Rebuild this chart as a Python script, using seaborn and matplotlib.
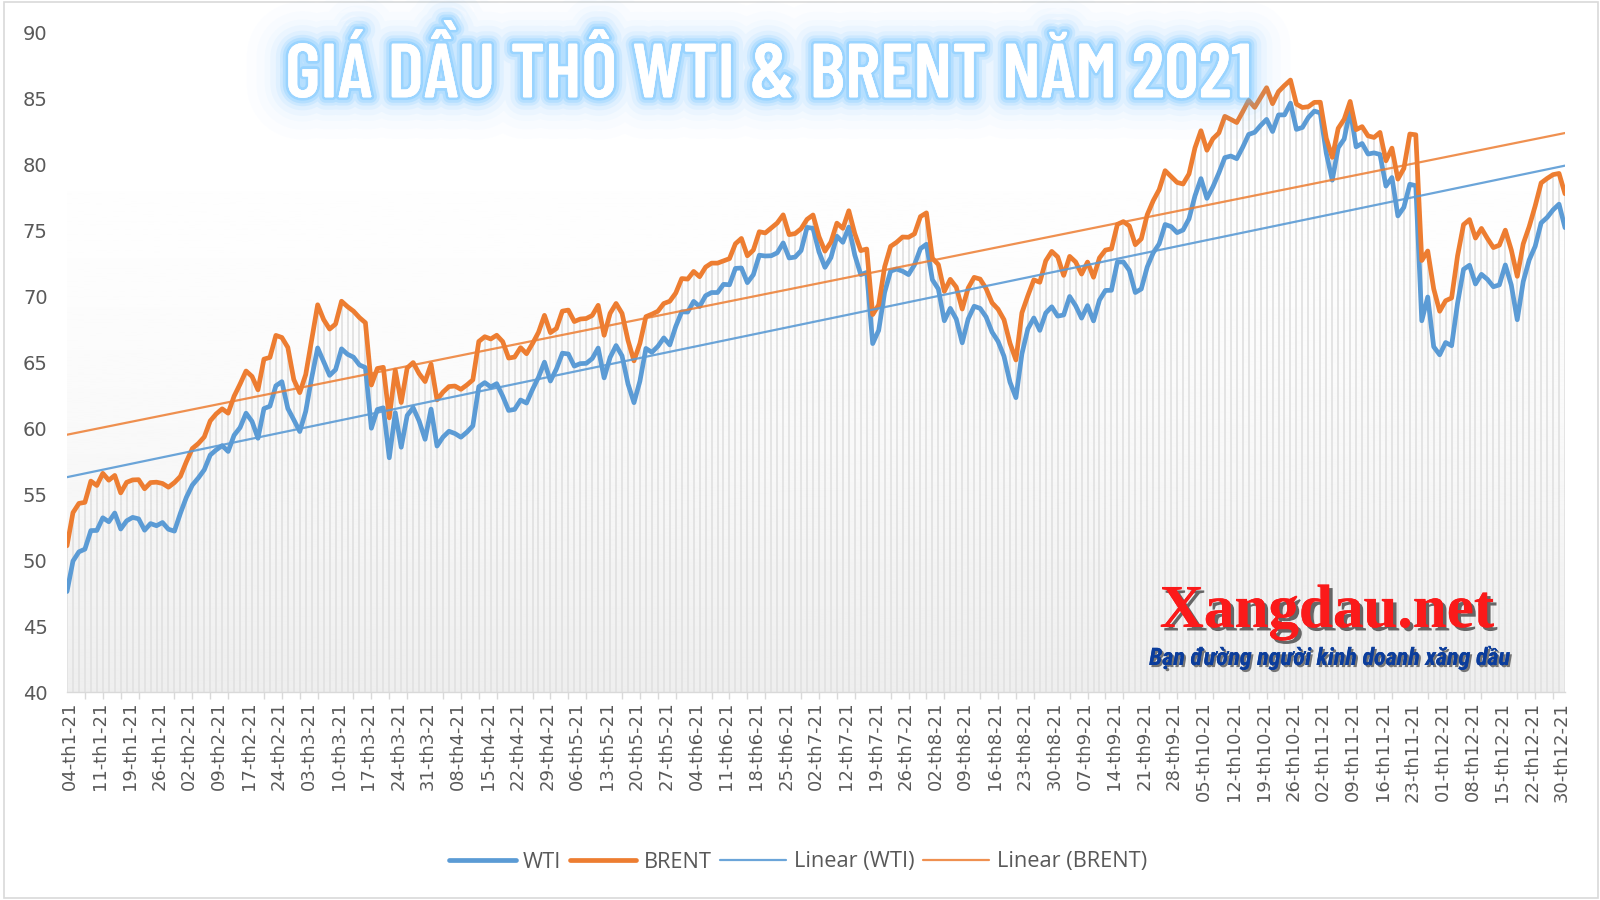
import numpy as np
import pandas as pd
import matplotlib
matplotlib.use("Agg")
import matplotlib.pyplot as plt
import matplotlib.patheffects as pe
from matplotlib.patches import Rectangle
from matplotlib.transforms import ScaledTranslation
import seaborn as sns
import logging

logging.getLogger("matplotlib.font_manager").setLevel(logging.ERROR)

wti = [47.62,49.93,50.63,50.83,52.24,52.25,53.21,52.91,53.57,52.36,52.98,53.24,53.13,52.27,52.77,52.61,52.85,52.34,52.20,
       53.55,54.76,55.69,56.23,56.85,57.97,58.36,58.68,58.24,59.47,60.05,61.14,60.52,59.24,61.49,61.67,63.22,63.53,61.50,
       60.64,59.75,61.28,63.83,66.09,65.05,64.01,64.44,66.02,65.61,65.39,64.80,64.60,60.00,61.42,61.55,57.76,61.18,58.56,60.97,61.56,60.55,59.16,
       61.45,58.65,59.33,59.77,59.60,59.32,59.70,60.18,63.15,63.46,63.13,63.38,62.44,61.35,61.43,62.14,61.91,62.94,63.86,65.01,63.58,
       64.49,65.69,65.63,64.71,64.90,64.92,65.28,66.08,63.82,65.37,66.27,65.49,63.36,61.94,63.58,66.05,65.76,66.21,66.85,66.32,
       67.72,68.83,68.81,69.62,69.23,70.05,70.29,70.29,70.91,70.88,72.12,72.15,71.04,71.64,73.12,73.06,73.08,73.30,74.05,72.91,72.98,73.47,
       75.23,75.16,73.37,72.20,72.94,74.56,74.10,75.25,73.13,71.65,71.81,66.42,67.42,70.30,71.91,72.07,71.91,71.65,72.39,73.62,73.95,
       71.26,70.56,68.15,69.09,68.28,66.48,68.29,69.25,69.09,68.44,67.29,66.59,65.46,63.50,62.32,65.64,67.54,68.36,67.42,68.74,69.21,68.50,
       68.59,69.99,69.29,68.35,69.30,68.14,69.72,70.45,70.46,72.61,72.61,71.97,70.29,70.56,72.23,73.30,73.98,75.45,75.29,74.83,75.03,
       75.88,77.62,78.93,77.43,78.30,79.35,80.52,80.64,80.44,81.31,82.28,82.44,82.96,83.42,82.50,83.76,83.76,84.65,82.66,82.81,83.57,
       84.05,83.91,80.86,78.81,81.27,81.93,84.15,81.34,81.59,80.79,80.88,80.76,78.36,79.01,76.10,76.75,78.50,78.39,68.15,69.95,66.18,
       65.57,66.50,66.26,69.49,72.05,72.36,70.94,71.67,71.29,70.73,70.87,72.38,70.86,68.23,71.12,72.76,73.79,75.57,75.98,76.56,76.99,75.21]

brent = [51.09,53.60,54.30,54.38,55.99,55.66,56.58,56.06,56.42,55.10,55.90,56.08,56.10,55.41,55.88,55.91,55.81,55.53,55.88,
         56.35,57.46,58.46,58.84,59.34,60.56,61.09,61.47,61.14,62.43,63.35,64.34,63.93,62.91,65.24,65.37,67.04,66.88,66.13,
         63.69,62.70,64.07,66.74,69.36,68.24,67.52,67.90,69.63,69.22,68.88,68.39,68.00,63.28,64.53,64.62,60.79,64.41,61.95,64.57,64.98,64.14,63.54,
         64.86,62.15,62.74,63.16,63.20,62.95,63.28,63.67,66.58,66.94,66.77,67.05,66.57,65.32,65.40,66.11,65.65,66.42,67.27,68.56,67.25,
         67.56,68.88,68.96,68.09,68.28,68.32,68.55,69.32,67.05,68.71,69.46,68.71,66.66,65.11,66.44,68.46,68.65,68.87,69.46,69.63,
         70.25,71.35,71.31,71.89,71.49,72.22,72.52,72.52,72.69,72.86,73.99,74.39,73.08,73.51,74.90,74.81,75.19,75.56,76.18,74.68,74.76,75.13,
         75.84,76.17,74.53,73.43,74.12,75.55,75.16,76.49,74.76,73.47,73.59,68.62,69.35,72.23,73.79,74.10,74.50,74.48,74.74,76.05,76.33,
         72.89,72.41,70.38,71.29,70.70,69.04,70.63,71.44,71.31,70.59,69.51,69.03,68.23,66.45,65.18,68.75,70.05,71.25,71.07,72.70,73.41,72.99,
         71.59,73.03,72.61,71.69,72.60,71.45,72.92,73.51,73.60,75.46,75.67,75.34,73.92,74.36,76.19,77.25,78.09,79.53,79.09,78.64,78.52,
         79.28,81.26,82.56,81.08,81.95,82.39,83.65,83.42,83.18,84.00,84.86,84.33,85.08,85.82,84.61,85.53,85.99,86.40,84.58,84.32,84.38,
         84.71,84.72,81.99,80.54,82.74,83.43,84.78,82.64,82.87,82.17,82.05,82.43,80.28,81.24,78.89,79.70,82.31,82.25,72.72,73.44,70.57,
         68.87,69.67,69.88,73.08,75.44,75.82,74.42,75.15,74.39,73.70,73.88,75.02,73.52,71.52,73.98,75.29,76.85,78.60,78.94,79.23,79.32,77.78]

date_labels = ["04-th1-21","11-th1-21","19-th1-21","26-th1-21","02-th2-21","09-th2-21","17-th2-21","24-th2-21",
               "03-th3-21","10-th3-21","17-th3-21","24-th3-21","31-th3-21","08-th4-21","15-th4-21","22-th4-21","29-th4-21",
               "06-th5-21","13-th5-21","20-th5-21","27-th5-21","04-th6-21","11-th6-21","18-th6-21","25-th6-21",
               "02-th7-21","12-th7-21","19-th7-21","26-th7-21","02-th8-21","09-th8-21","16-th8-21","23-th8-21","30-th8-21",
               "07-th9-21","14-th9-21","21-th9-21","28-th9-21","05-th10-21","12-th10-21","19-th10-21","26-th10-21",
               "02-th11-21","09-th11-21","16-th11-21","23-th11-21","01-th12-21","08-th12-21","15-th12-21","22-th12-21","30-th12-21"]

y_ticks = [40, 45, 50, 55, 60, 65, 70, 75, 80, 85, 90]

df = pd.DataFrame({"day": range(len(wti)), "WTI": wti, "BRENT": brent})

BLUE = "#5B9BD5"
ORANGE = "#ED7D31"
TEXT = "#595959"

sns.set_theme(style="white")
plt.rcParams["font.family"] = ["Open Sans", "DejaVu Sans"]

fig = plt.figure(figsize=(16, 9), dpi=100)
ax = fig.add_axes([67 / 1600, 1 - 692 / 900, (1565 - 67) / 1600, (692 - 32.6) / 900])

# soft gray fade behind the chart, only really visible near the axis
fade = 1 - np.linspace(0, 1, 256).reshape(-1, 1) ** 2
ax.imshow(fade, extent=[0, len(wti) - 1, 40, 90], aspect="auto", cmap="gray", vmin=-14, vmax=1,
          origin="upper", zorder=0)
ax.vlines(df["day"], 40, df["BRENT"], color="#e2e2e2", lw=1.3, zorder=1)

sns.lineplot(data=df, x="day", y="WTI", color=BLUE, lw=3.4, label="WTI", ax=ax, zorder=3)
sns.lineplot(data=df, x="day", y="BRENT", color=ORANGE, lw=3.4, label="BRENT", ax=ax, zorder=3)
sns.regplot(data=df, x="day", y="WTI", scatter=False, ci=None, truncate=True, ax=ax, color=BLUE,
            label="Linear (WTI)", line_kws={"lw": 1.6, "zorder": 4, "alpha": 0.9})
sns.regplot(data=df, x="day", y="BRENT", scatter=False, ci=None, truncate=True, ax=ax, color=ORANGE,
            label="Linear (BRENT)", line_kws={"lw": 1.6, "zorder": 4, "alpha": 0.85})

ax.set_xlim(0, len(wti) - 1)
ax.set_ylim(40, 90)
ax.set_xlabel("")
ax.set_ylabel("")
ax.set_yticks(y_ticks)
ax.tick_params(axis="y", length=0, pad=14, labelsize=14, labelcolor=TEXT)
for lab in ax.get_yticklabels():
    lab.set_family("DejaVu Sans")

ax.set_xticks(range(0, len(wti), 5))
ax.set_xticklabels(date_labels, rotation=90, fontsize=13, color=TEXT, va="top", ha="center", family="DejaVu Sans")
ax.set_xticks(range(0, len(wti), 3), minor=True)
ax.tick_params(axis="x", which="major", length=0, pad=7)
ax.tick_params(axis="x", which="minor", length=5, width=1, color="#d9d9d9", bottom=True)
shift = ScaledTranslation(3 / 100, 0, fig.dpi_scale_trans)
for lab in ax.get_xticklabels():
    lab.set_transform(lab.get_transform() + shift)

for side in ["top", "right", "left"]:
    ax.spines[side].set_visible(False)
ax.spines["bottom"].set_color("#d9d9d9")
ax.spines["bottom"].set_linewidth(1)

ax.legend(loc="center", bbox_to_anchor=(798 / 1600, 1 - 862 / 900), bbox_transform=fig.transFigure,
          ncol=4, frameon=False, fontsize=15.7, labelcolor=TEXT, handlelength=3.05,
          handletextpad=0.34, columnspacing=0.38, borderpad=0, borderaxespad=0)

# title with blue glow
glow = [pe.withStroke(linewidth=w, foreground="#5cbcff", alpha=a)
        for w, a in [(60, 0.015), (46, 0.02), (34, 0.03), (26, 0.05), (18, 0.08), (12, 0.14), (8, 0.2), (4, 0.3)]]
glow.append(pe.Normal())
fig.text(769 / 1600, 1 - 73 / 900, "GIÁ DẦU THÔ WTI & BRENT NĂM 2021", color="white", fontsize=55,
         fontweight=600, family=["Barlow Condensed", "Roboto Condensed", "Saira ExtraCondensed", "DejaVu Sans"],
         ha="center", va="center", path_effects=glow, zorder=10)

# watermark
fig.text(1327 / 1600, 1 - 612 / 900, "Xangdau.net", color="#fb1a1a", fontsize=44, fontweight="bold",
         family="Liberation Serif", ha="center", va="center", zorder=10,
         path_effects=[pe.withSimplePatchShadow(offset=(2.5, -2.5), shadow_rgbFace="#444444", alpha=0.8), pe.Normal()])
fig.text(1329 / 1600, 1 - 658 / 900, "Bạn đường người kinh doanh xăng dầu", color="#0b3d9c", fontsize=17.4,
         fontweight="bold", fontstyle="italic", family=["Roboto Condensed", "Barlow Condensed", "DejaVu Sans"],
         ha="center", va="center", zorder=10,
         path_effects=[pe.withSimplePatchShadow(offset=(1.5, -1.5), shadow_rgbFace="#444444", alpha=0.7), pe.Normal()])

# picture frame
fig.add_artist(Rectangle((4 / 1600, 2 / 900), 1594 / 1600, 896 / 900, transform=fig.transFigure,
                         fill=False, edgecolor="#d9d9d9", lw=1.2))

fig.savefig("out.png", dpi=100)
